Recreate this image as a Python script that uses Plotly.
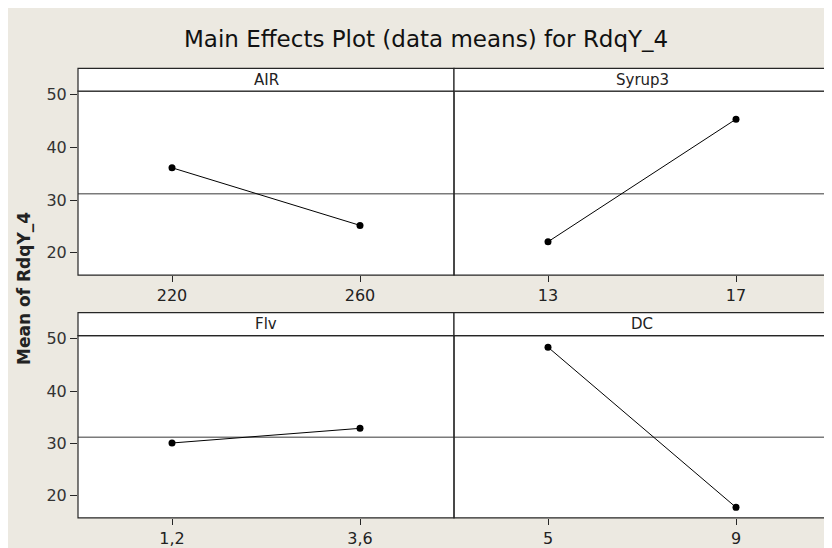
import plotly.graph_objects as go

# ---- data ----
factors = ["AIR", "Syrup3", "Flv", "DC"]
level_labels = [["220", "260"], ["13", "17"], ["1,2", "3,6"], ["5", "9"]]
level_pos = [1, 2]
means = [[36.1, 25.2], [22.1, 45.3], [30.1, 32.9], [48.4, 17.8]]
grand_mean = 31.2
y_ticks = [20, 30, 40, 50]
title = "Main Effects Plot (data means) for RdqY_4"
y_title = "Mean of RdqY_4"

# ---- layout geometry (reference-window pixels; page body has 8px margin) ----
OFF = 8
W, H = 832 - OFF, 548 - OFF
def px(x): return (x - OFF) / W
def py(y): return 1 - (y - OFF) / H

left, mid, right = 78, 454, 830
rows = [(63, 86, 272), (310, 333.3, 517.5)]
cols = [(left, mid), (mid, right)]

BG = "#ECE9E1"
LINE = "#262626"
FONT = "DejaVu Sans"

fig = go.Figure()
layout = dict(
    width=W, height=H, margin=dict(l=0, r=0, t=0, b=0),
    paper_bgcolor=BG, plot_bgcolor="white", showlegend=False,
    shapes=[], annotations=[],
)

for i, f in enumerate(factors):
    r, c = divmod(i, 2)
    n = i + 1
    xs = "" if n == 1 else str(n)
    xa, ya = "x" + xs, "y" + xs
    top, strip_bot, bot = rows[r]
    x0, x1 = cols[c]

    fig.add_trace(go.Scatter(
        x=level_pos, y=means[i], mode="lines+markers",
        line=dict(color="black", width=1),
        marker=dict(color="black", size=7),
        xaxis=xa, yaxis=ya, hoverinfo="skip"))

    layout["xaxis" + xs] = dict(
        domain=[px(x0), px(x1)], anchor=ya, range=[0.5, 2.5],
        tickmode="array", tickvals=level_pos, ticktext=level_labels[i],
        ticks="outside", ticklen=6, tickcolor=LINE, tickwidth=1,
        showline=False, showgrid=False, zeroline=False,
        tickfont=dict(family=FONT, size=16, color="#222"),
    )
    layout["yaxis" + xs] = dict(
        domain=[py(bot), py(strip_bot)], anchor=xa, range=[15.8, 50.6],
        tickmode="array", tickvals=y_ticks,
        ticks="outside" if c == 0 else "", ticklen=7, tickcolor=LINE,
        showticklabels=(c == 0),
        showline=False, showgrid=False, zeroline=False,
        tickfont=dict(family=FONT, size=16, color="#333"),
    )

    # reference (overall mean) line
    layout["shapes"].append(dict(type="line", xref=xa + " domain", yref=ya,
                                 x0=0, x1=1, y0=grand_mean, y1=grand_mean,
                                 line=dict(color="#7a7a7a", width=1.5),
                                 layer="below"))
    # panel border
    layout["shapes"].append(dict(type="rect", xref="paper", yref="paper",
                                 x0=px(x0), x1=px(x1), y0=py(bot), y1=py(strip_bot),
                                 fillcolor="rgba(0,0,0,0)", line=dict(color=LINE, width=1.2)))
    # strip
    layout["shapes"].append(dict(type="rect", xref="paper", yref="paper",
                                 x0=px(x0), x1=px(x1), y0=py(strip_bot), y1=py(top),
                                 fillcolor="white", line=dict(color=LINE, width=1.2)))
    layout["annotations"].append(dict(
        text=f, xref="paper", yref="paper",
        x=px((x0 + x1) / 2), y=py((top + strip_bot) / 2),
        showarrow=False, xanchor="center", yanchor="middle",
        font=dict(family=FONT, size=15, color="#222")))

layout["annotations"].append(dict(
    text=title, xref="paper", yref="paper", x=px(426), y=py(33),
    showarrow=False, xanchor="center", yanchor="middle",
    font=dict(family=FONT, size=23, color="#111")))
layout["annotations"].append(dict(
    text="<b>" + y_title + "</b>", xref="paper", yref="paper",
    x=px(24), y=py(286), textangle=-90,
    showarrow=False, xanchor="center", yanchor="middle",
    font=dict(family=FONT, size=17, color="#222")))

fig.update_layout(**layout)
fig.write_html("out.html")
